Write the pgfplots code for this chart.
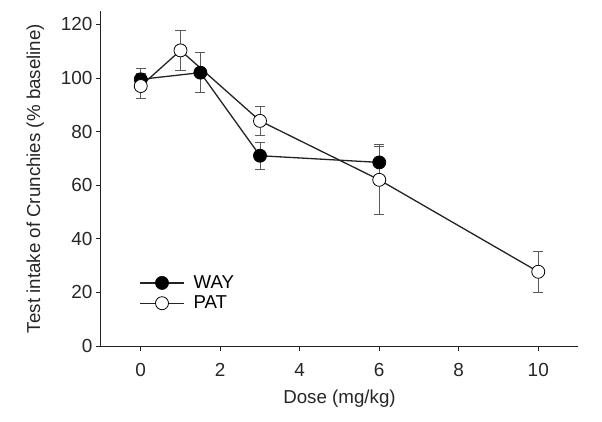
\documentclass[border=0pt]{standalone}
\usepackage{fontspec}
\setmainfont{Liberation Sans}
\usepackage{pgfplots}
\pgfplotsset{compat=1.18}
\definecolor{errgray}{RGB}{90,90,90}
\definecolor{linec}{RGB}{35,35,35}
\begin{document}
\begin{tikzpicture}
\begin{axis}[
  scale only axis,
  width=477bp, height=335bp,
  xmin=-1, xmax=11, ymin=0, ymax=125,
  axis x line*=bottom, axis y line*=left,
  axis line style={line width=1bp, color=linec, -},
  xtick={0,2,4,6,8,10}, ytick={0,20,40,60,80,100,120},
  tick align=outside, major tick length=5bp,
  tick style={line width=0.9bp, color=linec},
  /pgf/number format/assume math mode=true,
  ticklabel style={font=\fontsize{19}{21}\selectfont, color=black!85},
  xticklabel shift=9bp,
  xlabel={Dose (mg/kg)}, ylabel={Test intake of Crunchies (\% baseline)},
  label style={font=\fontsize{18.8}{22}\selectfont, color=black!85},
  xlabel shift=6bp, ylabel shift=10bp,
  legend style={draw=none, fill=none, at={(rel axis cs:0.080,0.158)}, anchor=west,
    font=\fontsize{18.7}{21}\selectfont, row sep=2bp, inner sep=0pt, cells={anchor=west},
    /tikz/every odd column/.append style={column sep=7bp}},
  legend image code/.code={\draw[mark repeat=2,mark phase=2,#1] plot coordinates {(0bp,0bp) (22bp,0bp) (44bp,0bp)};},
  clip=false,
]
\addplot[color=linec, line width=1.3bp, mark=*, mark size=6.5bp, mark options={fill=black, draw=black, line width=0.8bp},
  error bars/.cd, y dir=both, y explicit,
  error bar style={color=errgray, line width=1bp},
  error mark options={rotate=90, mark size=5bp, color=errgray, line width=1bp}]
  coordinates {(0,99.5) +- (0,4) (1.5,102) +- (0,7.5) (3,71) +- (0,5) (6,68.5) +- (0,6)};
\addlegendentry{WAY}
\addplot[color=linec, line width=1.3bp, mark=*, mark size=6.5bp, mark options={fill=white, draw=black, line width=0.8bp},
  error bars/.cd, y dir=both, y explicit,
  error bar style={color=errgray, line width=1bp},
  error mark options={rotate=90, mark size=5bp, color=errgray, line width=1bp}]
  coordinates {(0,97) +- (0,4.5) (1,110.3) +- (0,7.4) (3,84) +- (0,5.5) (6,62) +- (0,13) (10,27.7) +- (0,7.6)};
\addlegendentry{PAT}
\end{axis}
\path (current axis.south west) ++(-101bp,-76bp) rectangle ++(602bp,422bp);
\end{tikzpicture}
\end{document}
